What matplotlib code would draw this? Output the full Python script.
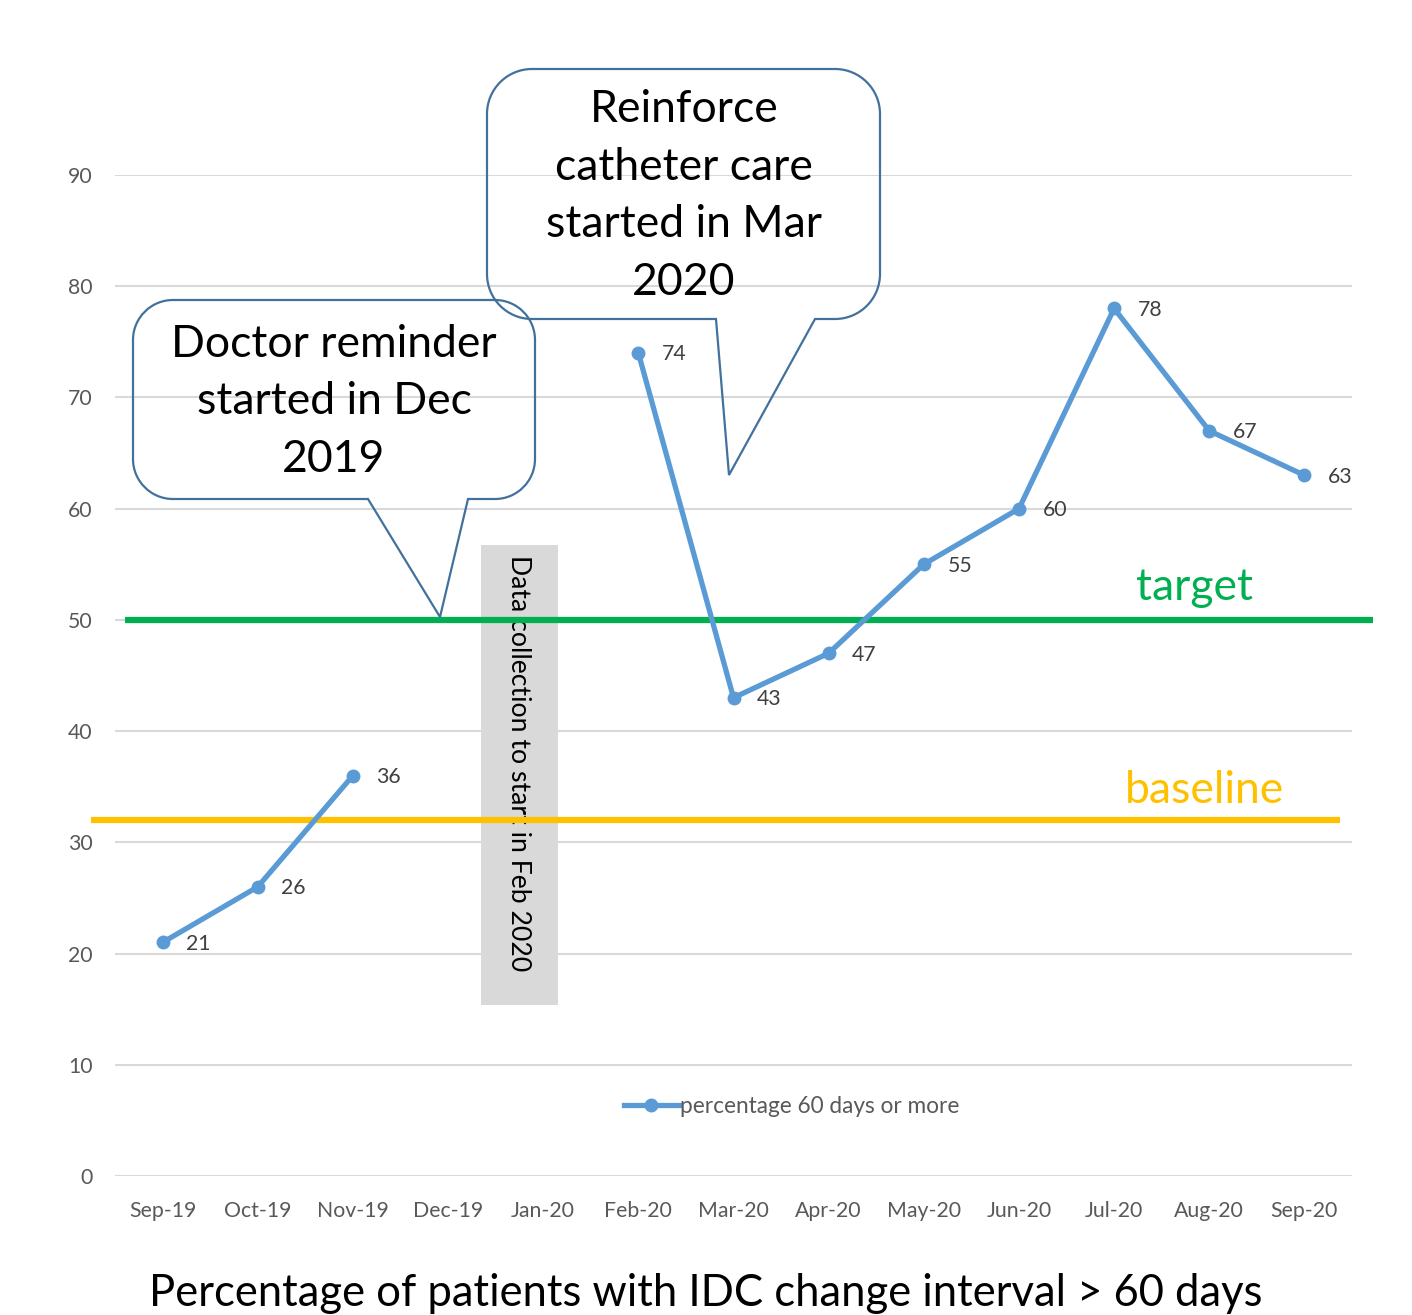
import numpy as np
import matplotlib
matplotlib.use("Agg")
import matplotlib.pyplot as plt
from matplotlib.path import Path
from matplotlib.patches import PathPatch, Rectangle
from matplotlib.transforms import Affine2D

plt.rcParams['font.family'] = ['Lato', 'DejaVu Sans']

# data
months = ["Sep-19", "Oct-19", "Nov-19", "Dec-19", "Jan-20", "Feb-20", "Mar-20",
          "Apr-20", "May-20", "Jun-20", "Jul-20", "Aug-20", "Sep-20"]
pct = [21, 26, 36, np.nan, np.nan, 74, 43, 47, 55, 60, 78, 67, 63]
target = 50
baseline = 32
series_name = "percentage 60 days or more"
title = "Percentage of patients with IDC change interval > 60 days"
yticks = [0, 10, 20, 30, 40, 50, 60, 70, 80, 90]

W, H = 1412, 1315
fig = plt.figure(figsize=(W / 100, H / 100), dpi=100)
ax = fig.add_axes([115 / W, 1 - 1176 / H, (1352 - 115) / W, (1176 - 175) / H])

blue = "#5B9BD5"
grey_txt = "#595959"

x = np.arange(len(months))
ax.set_xlim(-0.5, len(months) - 0.5)
ax.set_ylim(0, 90)
ax.set_yticks(yticks)
ax.set_xticks(x)
ax.set_xticklabels(months)
ax.grid(axis="y", color="#D9D9D9", lw=1.5)
ax.set_axisbelow(True)
for s in ax.spines.values():
    s.set_visible(False)
ax.tick_params(length=0, labelsize=15.3, colors=grey_txt)
ax.tick_params(axis="x", pad=18)
ax.tick_params(axis="y", pad=16)

# gray note box
ax.add_patch(Rectangle((3.35, 15.4), 0.81, 41.3, facecolor="#D9D9D9",
                       edgecolor="none", zorder=1))
ax.text(3.74, 55.8, "Data collection to start in Feb 2020", rotation=-90,
        ha="center", va="top", fontsize=19.2, color="black", zorder=2)

# series
ax.plot(x, pct, color=blue, lw=3.8, marker="o", ms=9, zorder=4,
        label=series_name)
for xi, v in zip(x, pct):
    if not np.isnan(v):
        ax.annotate(f"{v:g}", (xi, v), xytext=(17, -1), textcoords="offset points",
                    ha="left", va="center", fontsize=15.3, color="#404040")

# target / baseline lines
ax.plot([-0.39, 12.72], [target, target], color="#00B050", lw=4.5,
        clip_on=False, zorder=3, solid_capstyle="butt")
ax.plot([-0.75, 12.37], [baseline, baseline], color="#FFC000", lw=4.5,
        clip_on=False, zorder=3, solid_capstyle="butt")
ax.text(10.85, 52.9, "target", color="#00B050", fontsize=32, ha="center",
        va="center")
ax.text(10.95, 34.7, "baseline", color="#FFC000", fontsize=32, ha="center",
        va="center")

leg = ax.legend(loc="center", bbox_to_anchor=(0.547, 0.0695), frameon=False,
                fontsize=16.3, handlelength=2.4, handletextpad=0.05)
for t in leg.get_texts():
    t.set_color(grey_txt)

# callouts (pixel coordinates, y downward)
pix = Affine2D().scale(1 / W, -1 / H).translate(0, 1) + fig.transFigure


def callout(x0, x1, y0, y1, r, b1, b2, tip):
    k = 0.5523 * r
    verts = [(x0 + r, y0), (x1 - r, y0),
             (x1 - r + k, y0), (x1, y0 + r - k), (x1, y0 + r),
             (x1, y1 - r),
             (x1, y1 - r + k), (x1 - r + k, y1), (x1 - r, y1),
             (b2, y1), tip, (b1, y1), (x0 + r, y1),
             (x0 + r - k, y1), (x0, y1 - r + k), (x0, y1 - r),
             (x0, y0 + r),
             (x0, y0 + r - k), (x0 + r - k, y0), (x0 + r, y0)]
    codes = [Path.MOVETO, Path.LINETO,
             Path.CURVE4, Path.CURVE4, Path.CURVE4,
             Path.LINETO,
             Path.CURVE4, Path.CURVE4, Path.CURVE4,
             Path.LINETO, Path.LINETO, Path.LINETO, Path.LINETO,
             Path.CURVE4, Path.CURVE4, Path.CURVE4,
             Path.LINETO,
             Path.CURVE4, Path.CURVE4, Path.CURVE4]
    fig.patches.append(PathPatch(Path(verts, codes), facecolor="none",
                                 edgecolor="#41719C", lw=1.6, transform=pix))


callout(133, 535, 300, 499, 40, 368, 468, (440, 617))
callout(487, 880, 69, 319, 45, 716, 815, (729, 475))

fig.text(334 / W, 1 - 402 / H, "Doctor reminder\nstarted in Dec\n2019",
         ha="center", va="center", fontsize=32, linespacing=1.5)
fig.text(684 / W, 1 - 196 / H, "Reinforce\ncatheter care\nstarted in Mar\n2020",
         ha="center", va="center", fontsize=32, linespacing=1.5)

fig.text(0.5, 1 - 1294 / H, title, ha="center", va="center", fontsize=31.4)

fig.savefig("out.png", dpi=100, facecolor="white")
